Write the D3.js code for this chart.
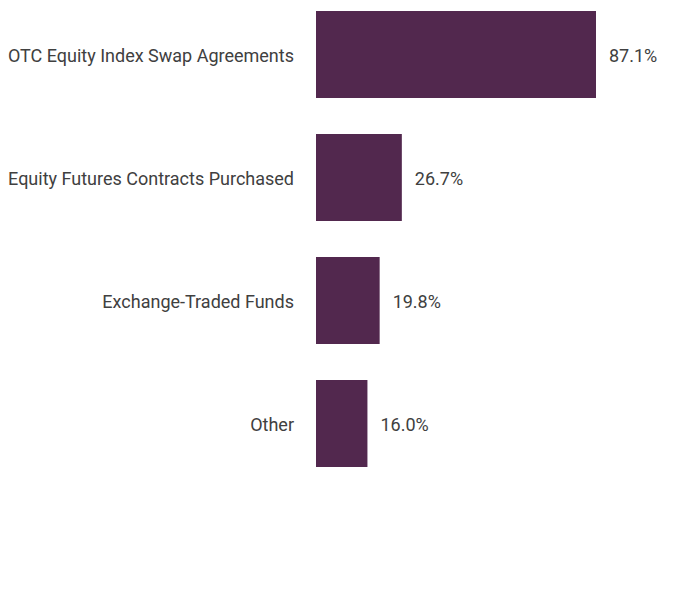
<!DOCTYPE html>
<html>
<head>
<meta charset="UTF-8">
<script src="https://cdn.jsdelivr.net/npm/d3@7"></script>
<style>
body{
    margin:0;
    background-color:#fff;
    font-family: Roboto, "Liberation Sans", Arial, sans-serif;
}
</style>
</head>
<body>
<script>

var categories = ["OTC Equity Index Swap Agreements", "Equity Futures Contracts Purchased", "Exchange-Traded Funds", "Other"];
var values = [87.1, 26.7, 19.8, 16.0];
var valueLabels = ["87.1%", "26.7%", "19.8%", "16.0%"];

var width = 696,
    height = 600,
    left = 316;

var x = d3.scaleLinear().domain([0, 87.1]).range([0, 280]);
var y = d3.scaleBand().domain(categories).range([-7, 485])
    .paddingInner(36/123).paddingOuter(18/123);

var svg = d3.select("body").append("svg")
    .attr("width", width)
    .attr("height", height);

var g = svg.append("g")
    .attr("transform", "translate(" + left + ",0)");

g.selectAll(".bar")
    .data(values)
    .enter().append("rect")
    .attr("x", 0)
    .attr("y", function(d, i){ return y(categories[i]); })
    .attr("width", function(d){ return x(d); })
    .attr("height", y.bandwidth())
    .attr("fill", "#52284e");

g.selectAll(".val")
    .data(values)
    .enter().append("text")
    .attr("x", function(d){ return x(d) + 13; })
    .attr("y", function(d, i){ return y(categories[i]) + y.bandwidth()/2 + 1; })
    .attr("dy", "0.35em")
    .attr("font-size", 18)
    .attr("fill", "#404040")
    .text(function(d, i){ return valueLabels[i]; });

g.selectAll(".cat")
    .data(categories)
    .enter().append("text")
    .attr("x", -22)
    .attr("y", function(d){ return y(d) + y.bandwidth()/2 + 1; })
    .attr("dy", "0.35em")
    .attr("text-anchor", "end")
    .attr("font-size", 18)
    .attr("fill", "#404040")
    .text(function(d){ return d; });

</script>
</body>
</html>
